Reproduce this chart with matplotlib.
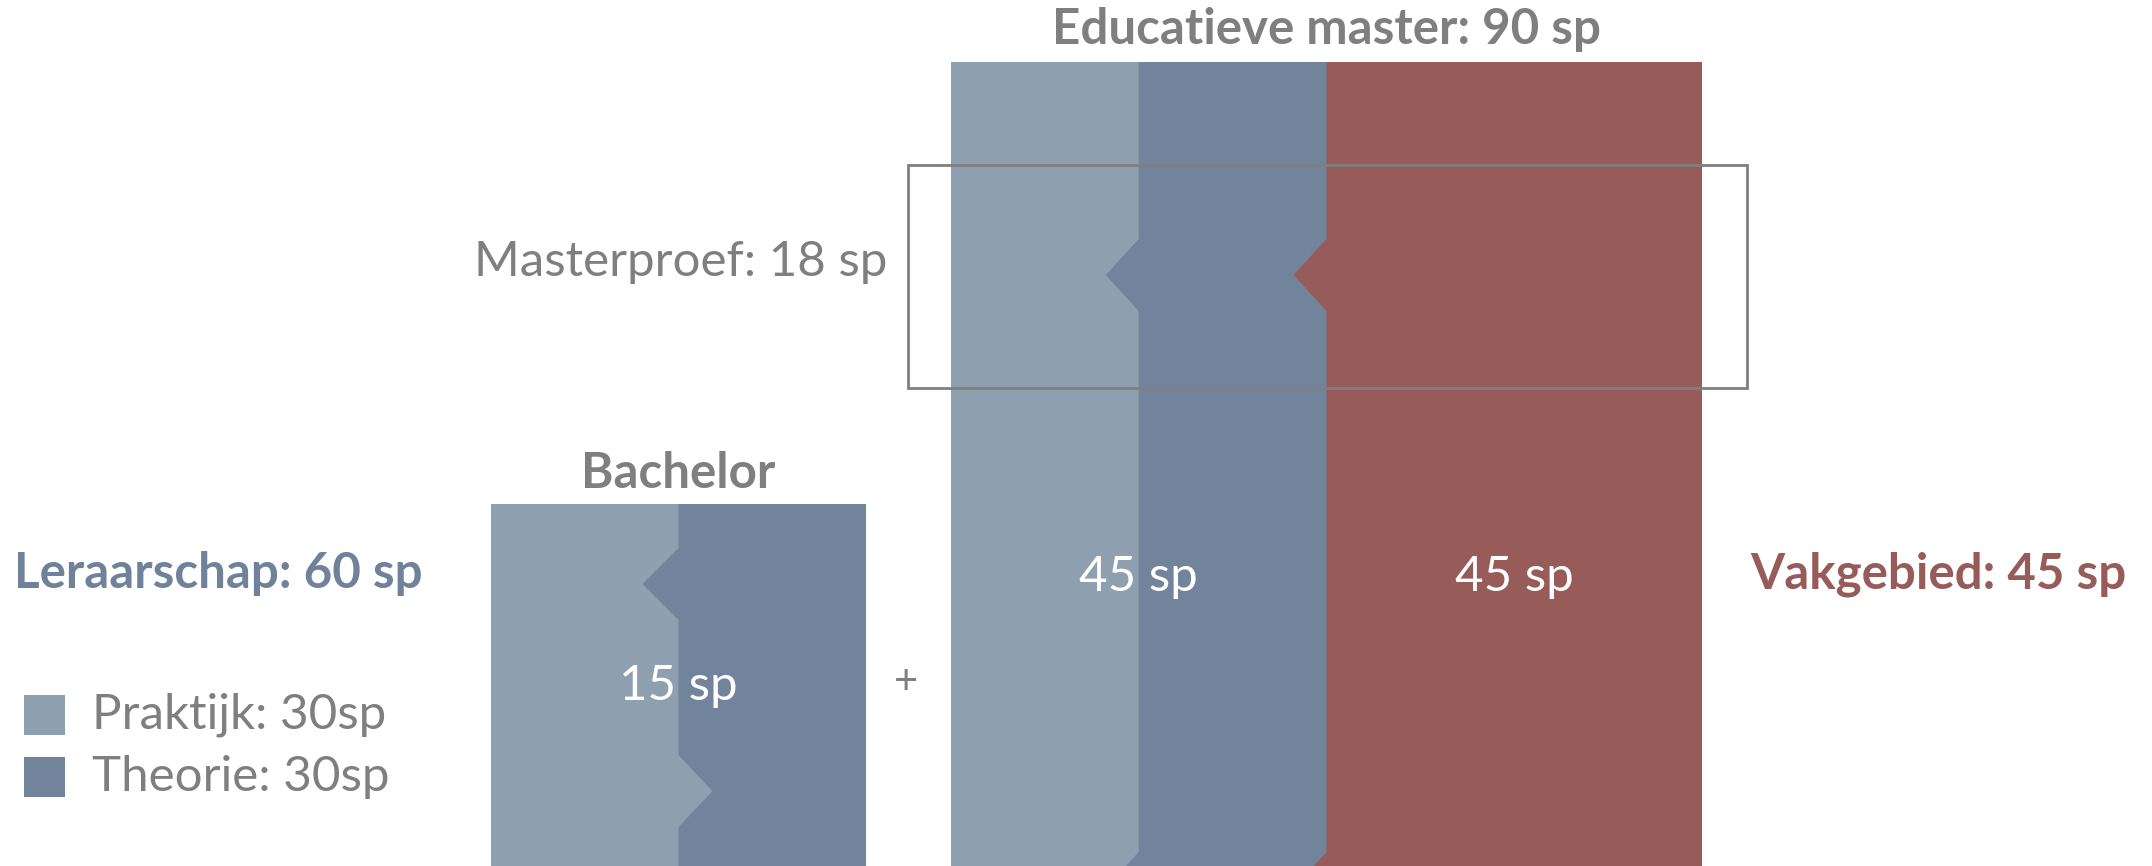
import matplotlib.pyplot as plt
from matplotlib.patches import Polygon, Rectangle

# study points (sp)
bachelor_sp = 15
master_total_sp = 90
master_parts_sp = [45, 45]          # leraarschap, vakgebied
leraarschap_sp = 60
vakgebied_sp = 45
masterproef_sp = 18
legend_labels = ['Praktijk: 30sp', 'Theorie: 30sp']

LIGHT = '#8e9fb0'
DARK = '#71849c'
RED = '#975c5a'
GREY = '#7f7f7f'
FS = 35.5

plt.rcParams['font.family'] = ['Lato', 'DejaVu Sans']

W, H = 2152, 866
fig = plt.figure(figsize=(W / 100, H / 100), dpi=100)
ax = fig.add_axes([0, 0, 1, 1])
ax.set_xlim(0, W)
ax.set_ylim(H, 0)
ax.axis('off')


def split_poly(x0, xs, top, bottom, notches):
    # left piece of a block, split at xs with triangular notches (y_mid, tip_x)
    pts = [(x0, top), (xs, top)]
    for ym, tip in sorted(notches):
        pts += [(xs, ym - 36), (tip, ym), (xs, ym + 36)]
    pts += [(xs, bottom), (x0, bottom)]
    return Polygon(pts, closed=True, lw=0)


# bachelor block
bx0, bx1, btop, bbot = 491, 866, 504, 900
bsplit = (bx0 + bx1) / 2
ax.add_patch(Rectangle((bx0, btop), bx1 - bx0, bbot - btop, color=DARK, lw=0))
p = split_poly(bx0, bsplit, btop, bbot, [(584, bsplit - 36), (791, bsplit + 34)])
p.set_color(LIGHT)
ax.add_patch(p)

# master block
mx0, mx1, mtop, mbot = 951, 1702, 62, 960
sp_w = (mx1 - mx0) / master_total_sp
s1 = mx0 + sp_w * master_parts_sp[0] / 2
s2 = mx0 + sp_w * master_parts_sp[0]
ax.add_patch(Rectangle((mx0, mtop), mx1 - mx0, mbot - mtop, color=RED, lw=0))
p = split_poly(mx0, s2, mtop, mbot, [(275, s2 - 33), (888, s2 - 33)])
p.set_color(DARK)
ax.add_patch(p)
p = split_poly(mx0, s1, mtop, mbot, [(275, s1 - 33), (888, s1 - 33)])
p.set_color(LIGHT)
ax.add_patch(p)

# masterproef box
ax.add_patch(Rectangle((908, 165), 1747 - 908, 388 - 165, fill=False,
                       ec=GREY, lw=2))

# texts
ax.text((mx0 + mx1) / 2, 30, f'Educatieve master: {master_total_sp} sp',
        ha='center', va='center', fontsize=FS, fontweight='bold', color=GREY)
ax.text(887, 262, f'Masterproef: {masterproef_sp} sp', ha='right', va='center',
        fontsize=FS, color=GREY)
ax.text(bsplit, 473, 'Bachelor', ha='center', va='center', fontsize=FS,
        fontweight='bold', color=GREY)
ax.text(bsplit, 686, f'{bachelor_sp} sp', ha='center', va='center',
        fontsize=FS, color='white')
ax.text(906, 682, '+', ha='center', va='center', fontsize=30, color=GREY)
ax.text(s1, 577, f'{master_parts_sp[0]} sp', ha='center', va='center',
        fontsize=FS, color='white')
ax.text((s2 + mx1) / 2, 577, f'{master_parts_sp[1]} sp', ha='center',
        va='center', fontsize=FS, color='white')
ax.text(14, 574, f'Leraarschap: {leraarschap_sp} sp', ha='left', va='center',
        fontsize=FS, fontweight='bold', color='#6f829a')
ax.text(2127, 574, f'Vakgebied: {vakgebied_sp} sp', ha='right', va='center',
        fontsize=FS, fontweight='bold', color=RED)

# legend
for i, (lab, col) in enumerate(zip(legend_labels, [LIGHT, DARK])):
    y = 715 + i * 62
    ax.add_patch(Rectangle((24, y - 20), 41, 40, color=col, lw=0))
    ax.text(92, y, lab, ha='left', va='center', fontsize=FS, color=GREY)

fig.savefig('out.png', dpi=100)
